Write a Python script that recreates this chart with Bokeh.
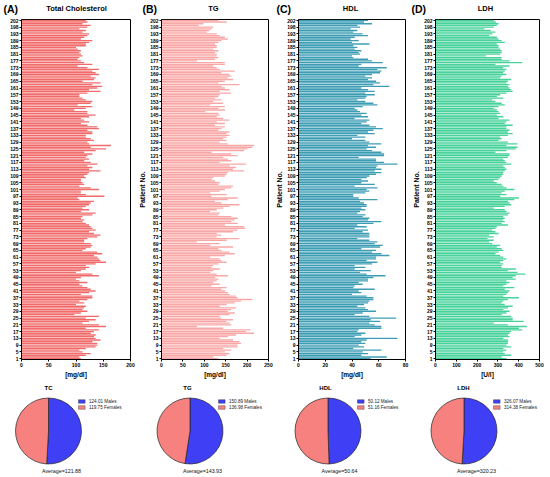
from bokeh.plotting import figure
from bokeh.layouts import column, row
from bokeh.models import FixedTicker, Range1d
from bokeh.core.properties import value
from bokeh.embed import file_html
from bokeh.resources import INLINE
import math

# ---------------- data ----------------
patients = [n for n in range(1, 203) if n != 195]   # 201 patients (bottom -> top)

tc = [109,106,118,127,112,106,118,136,139,139,130,145,
      136,133,136,127,133,142,118,155,142,112,124,136,
      118,142,97,109,121,112,115,118,100,115,106,121,
      130,130,109,124,136,127,121,112,106,121,106,100,
      109,142,130,100,109,118,124,118,136,155,145,142,
      139,133,148,139,112,118,127,130,127,115,115,121,
      139,145,133,124,136,130,127,124,118,112,115,109,
      112,130,136,109,124,112,118,124,127,133,106,103,
      152,118,109,109,142,127,106,115,112,109,109,118,
      115,121,124,145,124,130,121,139,127,115,124,118,
      121,130,115,136,155,127,164,124,121,133,127,118,
      118,130,130,121,142,139,121,109,124,115,109,124,
      136,121,121,97,118,130,103,127,130,118,112,106,
      106,121,145,124,139,148,130,145,112,133,136,127,
      142,136,130,142,121,103,130,115,109,103,106,112,
      109,106,109,103,100,118,118,124,130,109,115,121,
      124,112,118,106,121,127,112,121,118]

tg = [133,121,152,159,148,163,144,178,178,186,182,167,
      136,155,174,216,197,208,144,83,163,159,152,167,
      140,136,159,171,155,163,174,136,152,171,186,212,
      178,174,159,155,148,140,152,117,136,121,129,133,
      125,155,129,114,121,136,117,121,133,152,140,136,
      114,148,171,159,140,133,167,114,136,83,152,182,
      129,140,129,167,178,196,193,148,178,163,171,178,
      163,133,136,114,129,144,159,182,140,125,155,178,
      117,152,114,136,148,163,167,133,136,125,117,121,
      148,152,155,193,167,174,159,197,136,163,155,144,
      178,163,117,193,201,212,216,155,136,152,144,152,
      159,152,159,133,140,148,125,148,129,159,144,129,
      136,133,102,148,133,148,114,144,121,140,125,133,
      136,163,136,159,148,140,182,133,148,167,155,163,
      159,140,171,136,129,121,148,148,83,125,133,129,
      129,125,133,121,129,129,125,133,140,155,148,136,
      129,106,112,117,121,87,98,152,133]

hdl = [54,66,47,52,48,62,41,49,45,50,47,51,
       74,42,47,50,44,45,62,62,57,53,61,54,
       73,53,42,48,58,52,50,44,49,52,53,56,
       56,51,40,47,45,57,41,42,48,45,52,52,
       56,65,51,46,54,42,50,42,55,59,51,58,
       58,68,62,55,58,47,61,63,57,59,53,44,
       53,53,53,48,52,42,51,44,56,62,52,53,
       48,50,44,46,50,47,51,51,49,46,59,45,
       41,41,50,53,51,59,42,57,47,52,47,51,
       53,58,62,57,62,58,59,74,64,58,58,45,
       64,64,62,55,51,58,52,62,53,50,40,50,
       44,57,52,56,63,58,53,47,51,53,42,52,
       47,51,46,44,42,48,59,56,50,44,50,51,
       57,50,57,52,47,68,56,61,58,52,55,50,
       55,61,62,59,66,45,47,63,55,52,41,40,
       46,45,47,42,44,41,53,40,45,39,42,52,
       48,41,44,39,46,44,55,49,52]

ldh = [341,318,364,333,326,341,326,364,341,348,348,348,
       326,356,348,356,364,417,401,439,348,280,424,371,
       371,364,318,341,356,326,348,371,333,318,326,348,
       401,326,341,348,356,333,379,326,341,356,341,386,
       371,386,432,394,348,386,318,318,326,311,326,341,
       326,311,288,303,326,318,295,311,273,258,280,250,
       280,258,303,288,273,288,295,348,318,333,326,333,
       326,348,356,341,333,280,333,364,356,348,379,401,
       311,341,318,333,379,341,326,318,295,280,303,311,
       318,326,326,333,341,333,326,364,341,333,326,348,
       356,356,288,341,386,394,341,394,348,303,318,311,
       348,371,348,356,341,341,371,333,341,356,303,326,
       295,311,303,295,280,303,333,318,288,273,326,295,
       311,341,371,364,356,348,356,341,348,364,311,318,
       341,326,333,341,326,356,288,417,356,318,318,242,
       311,318,318,311,303,303,295,333,318,303,295,258,
       273,288,265,235,280,295,303,290,280]

panel_letters = ["(A)", "(B)", "(C)", "(D)"]
panel_titles = ["Total Cholesterol", "TG", "HDL", "LDH"]
units = ["[mg/dl]", "[mg/dl]", "[mg/dl]", "[U/l]"]
x_max = [200, 250, 80, 500]
x_ticks = [[0, 50, 100, 150, 200], [0, 50, 100, 150, 200, 250],
           [0, 20, 40, 60, 80], [0, 100, 200, 300, 400, 500]]

pie_titles = ["TC", "TG", "HDL", "LDH"]
males = [124.01, 150.89, 50.12, 326.07]
females = [119.75, 136.98, 51.16, 314.38]
averages = [121.88, 143.93, 50.64, 320.23]

# ---------------- style ----------------
FONT = value("Liberation Sans")
bar_colors = ["#F26B6B", "#F8A7A6", "#3D9DB4", "#47D29A"]
male_color = "#3F3FF5"
female_color = "#F7817F"

W = 550
series = [tc, tg, hdl, ldh]
# layout geometry (left border, frame width, right border)
geo = [(21, 109, 6), (22, 110, 5), (22, 110, 5), (22, 107, 6)]
STRIP_H = 18
FIG_H = 362
PH = 477 - STRIP_H - FIG_H

# ---------------- top strip (letters + titles) ----------------
strip = figure(width=W, height=STRIP_H, x_range=Range1d(0, W), y_range=Range1d(0, STRIP_H),
               toolbar_location=None, output_backend="svg",
               x_axis_location=None, y_axis_location=None,
               min_border=0, outline_line_color=None)
strip.grid.visible = False
letter_x = [3, 142, 276, 411]
title_x = [76, 213, 350, 485]
strip.text(x=letter_x, y=[STRIP_H - 8.7]*4, text=panel_letters, text_font=FONT,
           text_font_style="bold", text_font_size="10.5px",
           text_baseline="middle", text_align="left", text_color="black")
strip.text(x=title_x, y=[STRIP_H - 8.3]*4, text=panel_titles, text_font=FONT,
           text_font_style="bold", text_font_size="7.5px",
           text_baseline="middle", text_align="center", text_color="black")

# ---------------- bar panels ----------------
figs = []
for k in range(4):
    vals = series[k]
    n = len(vals)
    idx = list(range(n))
    lb, fw, rb = geo[k]
    p = figure(width=lb + fw + rb, height=FIG_H,
               x_range=Range1d(0, x_max[k]), y_range=Range1d(-0.5, n - 0.5),
               toolbar_location=None, output_backend="svg",
               min_border_left=lb, min_border_right=rb,
               min_border_top=1, min_border_bottom=17)
    p.hbar(y=idx, left=0, right=vals, height=0.8,
           fill_color=bar_colors[k], line_color=None)
    p.grid.visible = False
    p.outline_line_color = "black"
    p.outline_line_width = 1
    p.xaxis.ticker = FixedTicker(ticks=x_ticks[k])
    ticks_y = list(range(0, n, 4))
    p.yaxis.ticker = FixedTicker(ticks=ticks_y)
    p.yaxis.major_label_overrides = {i: str(patients[i]) for i in ticks_y if i < len(patients)}
    for ax in (p.xaxis[0], p.yaxis[0]):
        ax.axis_line_color = "black"
        ax.axis_line_width = 1
        ax.major_tick_line_color = "black"
        ax.major_tick_out = 2
        ax.major_tick_in = 0
        ax.minor_tick_line_color = None
        ax.major_label_text_font = "Liberation Sans"
        ax.major_label_text_font_style = "bold"
        ax.major_label_text_font_size = "5px"
        ax.major_label_text_color = "black"
        ax.major_label_standoff = 1
        ax.axis_label_text_font = "Liberation Sans"
        ax.axis_label_text_font_style = "bold"
        ax.axis_label_text_color = "black"
    p.xaxis.axis_label = units[k]
    p.xaxis.axis_label_text_font_size = "6.5px"
    p.xaxis.axis_label_standoff = 1
    p.xaxis.major_label_standoff = 1
    if k > 0:
        p.yaxis.axis_label = "Patient No."
        p.yaxis.axis_label_text_font_size = "7px"
        p.yaxis.axis_label_standoff = 1
    figs.append(p)

# ---------------- pies ----------------
pies = figure(width=W, height=PH, x_range=Range1d(0, W), y_range=Range1d(0, PH),
              toolbar_location=None, output_backend="svg",
              x_axis_location=None, y_axis_location=None,
              min_border=0, outline_line_color=None)
pies.grid.visible = False
top = 477  # page y of the pie figure bottom edge
def py(page_y):
    return top - page_y

cx = [48, 189.5, 327.5, 463.5]
cy = py(430.5)
R = 33
for k in range(4):
    frac = males[k] / (males[k] + females[k])
    a0 = math.pi / 2
    a1 = a0 - 2 * math.pi * frac
    pies.wedge(x=cx[k], y=cy, radius=R, start_angle=a0, end_angle=a1,
               direction="clock", fill_color=male_color,
               line_color="#222222", line_width=0.7)
    pies.wedge(x=cx[k], y=cy, radius=R, start_angle=a1, end_angle=a0 - 2 * math.pi,
               direction="clock", fill_color=female_color,
               line_color="#222222", line_width=0.7)

title_px = [48, 187, 325, 463]
pies.text(x=title_px, y=[py(387)]*4, text=pie_titles, text_font=FONT,
          text_font_style="bold", text_font_size="6px",
          text_align="center", text_baseline="middle", text_color="black")

leg_x = [78, 218, 357, 493]
row_y = [py(401), py(407)]
for k in range(4):
    labels = ["%.2f Males" % males[k], "%.2f Females" % females[k]]
    cols = [male_color, female_color]
    for j in range(2):
        pies.rect(x=leg_x[k] + 3.3, y=row_y[j], width=6.6, height=3.6,
                  fill_color=cols[j], line_color="#333333", line_width=0.4)
        pies.text(x=[leg_x[k] + 10.5], y=[row_y[j]], text=[labels[j]],
                  text_font=FONT, text_font_size="4.6px",
                  text_align="left", text_baseline="middle", text_color="#222222")

avg_x = [61, 202, 339, 476]
pies.text(x=avg_x, y=[py(470.5)]*4, text=["Average=%.2f" % a for a in averages],
          text_font=FONT, text_font_size="5.3px",
          text_align="center", text_baseline="middle", text_color="#111111")

layout = column(strip, row(*figs), pies)
open("out.html", "w").write(file_html(layout, INLINE))
